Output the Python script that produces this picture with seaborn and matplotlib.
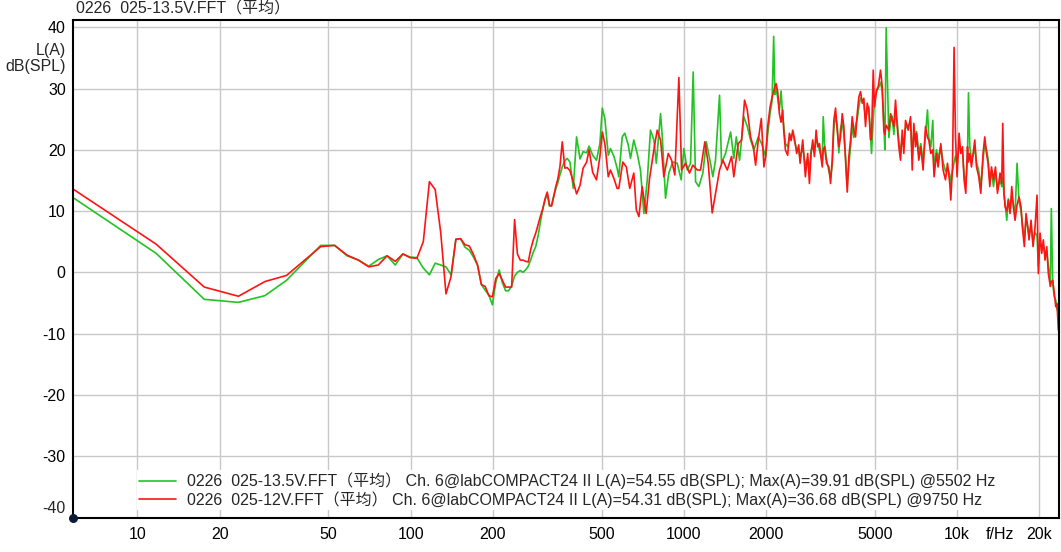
import pandas as pd
import seaborn as sns
import matplotlib.pyplot as plt

# FFT levels (Hz, dB(SPL) A-weighted)
# low part: individual FFT bins, shared by both measurements
freq_low = [5.86, 11.72, 17.58, 23.44, 29.3, 35.16, 46.88, 52.73, 58.59, 64.45,
            70.31, 76.17, 82.03, 87.89, 93.75, 99.61, 105.47, 111.33, 117.19, 123.05,
            128.91, 134.77, 140.63, 146.48, 152.34, 158.2, 164.06, 169.92, 175.78, 181.64,
            187.5, 193.36, 199.22, 205.08, 210.94, 216.8, 222.66, 228.52, 234.38, 240.23,
            246.09, 251.95, 257.81, 263.67, 269.53, 275.39, 281.25, 287.11, 292.97, 298.83,
            304.69, 310.55, 316.41, 322.27, 328.13, 333.98, 339.84, 345.7]
low_135v = [12.1, 3.1, -4.4, -4.9, -3.8, -1.3, 4.4, 4.4, 2.7, 2.0,
            1.0, 2.1, 2.7, 1.2, 3.0, 2.5, 2.4, 0.7, -0.4, 1.5,
            1.2, 0.9, -0.4, 5.4, 5.5, 4.1, 3.6, 2.5, 1.2, -2.0,
            -2.9, -3.7, -5.3, -1.6, 0.4, -1.7, -3.0, -3.0, -2.2, -0.6,
            0.0, 0.3, 0.0, 0.4, 1.0, 2.1, 3.3, 4.2, 6.0, 8.3,
            10.3, 11.8, 12.8, 10.8, 11.0, 12.5, 13.6, 14.6]
low_12v = [13.5, 4.6, -2.4, -3.9, -1.5, -0.5, 4.2, 4.4, 2.8, 2.0,
           0.9, 1.2, 2.7, 1.8, 3.0, 2.4, 2.3, 5.0, 14.8, 13.5,
           6.5, -3.5, -0.7, 5.4, 5.5, 4.5, 4.3, 2.9, 1.2, -2.0,
           -2.3, -3.8, -4.0, -1.0, -0.2, -1.3, -2.4, -2.4, -2.4, 8.6,
           3.0, 2.0, 2.0, 1.8, 1.7, 3.8, 5.3, 6.4, 7.8, 9.2,
           10.4, 12.0, 13.1, 11.0, 10.8, 12.3, 14.0, 15.2]

# 350 - 570 Hz
freq_mid = [352, 359, 367, 374, 383, 394, 405, 417, 428, 441,
            450, 464, 479, 493, 503, 514, 529, 539, 555, 570]
mid_135v = [15.9, 17.2, 18.2, 18.6, 18.0, 13.7, 22.1, 18.5, 19.7, 19.5,
            20.6, 19.1, 18.3, 21.0, 26.8, 25.1, 19.1, 20.2, 18.9, 17.0]
mid_12v = [17.2, 21.3, 17.0, 17.1, 16.6, 14.8, 12.8, 14.2, 17.0, 18.0,
           20.0, 16.3, 15.1, 18.9, 22.9, 21.0, 15.6, 16.7, 15.3, 13.7]

# 570 Hz - 2 kHz, read separately for each trace
freq_b_135v = [578, 595, 608, 626, 638, 656, 675, 694, 714, 735,
               755, 777, 793, 822, 834, 857, 881, 911, 946, 978,
               1000, 1029, 1058, 1082, 1104, 1135, 1174, 1208, 1252, 1277,
               1306, 1351, 1374, 1421, 1483, 1524, 1556, 1599, 1658, 1707,
               1755, 1805, 1873, 1926, 1992]
b_135v = [15.6, 22.1, 22.7, 20.8, 18.6, 21.6, 19.4, 16.7, 9.6, 15.1,
          23.2, 21.6, 17.8, 25.9, 22.1, 12.1, 16.2, 18.0, 17.8, 15.1,
          20.2, 16.7, 17.8, 32.7, 14.8, 14.0, 16.2, 21.3, 17.8, 15.6,
          18.3, 28.9, 17.8, 19.4, 22.9, 18.6, 22.1, 18.3, 25.4, 23.8,
          21.6, 20.0, 22.1, 21.0, 18.9]
freq_b_12v = [578, 598, 616, 634, 656, 670, 685, 704, 728, 749,
              777, 799, 822, 845, 877, 902, 927, 959, 981, 1014,
              1049, 1079, 1120, 1151, 1194, 1228, 1270, 1306, 1351, 1389,
              1442, 1495, 1524, 1582, 1627, 1668, 1707, 1755, 1796, 1831,
              1873, 1921, 1964, 1992]
b_12v = [13.7, 18.0, 17.2, 13.7, 16.2, 10.2, 9.1, 14.0, 9.6, 15.3,
         20.0, 23.2, 21.6, 15.6, 19.4, 18.3, 15.9, 31.8, 16.7, 17.8,
         16.2, 17.5, 16.7, 16.7, 21.3, 17.8, 9.7, 12.9, 16.7, 18.3,
         16.7, 18.9, 15.6, 21.0, 21.6, 28.1, 26.5, 22.1, 20.5, 17.5,
         21.6, 25.1, 17.2, 18.9]

# 2 kHz - 23.5 kHz
freq_high = [2027, 2069, 2104, 2132, 2154, 2176, 2205, 2237, 2269, 2300,
             2320, 2353, 2399, 2434, 2469, 2503, 2539, 2589, 2633, 2664,
             2723, 2785, 2840, 2881, 2923, 2962, 3005, 3049, 3090, 3135,
             3210, 3237, 3273, 3329, 3394, 3443, 3492, 3540, 3591, 3642,
             3692, 3745, 3799, 3851, 3906, 3963, 4017, 4075, 4133, 4189,
             4250, 4311, 4370, 4433, 4497, 4558, 4623, 4690, 4753, 4822,
             4863, 4933, 4987, 5072, 5145, 5246, 5322, 5394, 5440, 5502,
             5627, 5708, 5790, 5868, 5953, 6039, 6121, 6209, 6299, 6384,
             6477, 6626, 6756, 6853, 6946, 7046, 7103, 7242, 7365, 7509,
             7663, 7793, 7879, 8013, 8149, 8238, 8406, 8521, 8717, 8887,
             9069, 9223, 9403, 9483, 9620, 9750, 9866, 10000, 10170, 10317,
             10465, 10608, 10761, 10916, 11008, 11129, 11290, 11443, 11607, 11776,
             12007, 12211, 12449, 12628, 12810, 12985, 13172, 13362, 13590, 13820,
             14055, 14362, 14570, 14692, 14856, 14980, 15196, 15402, 15626, 15852,
             16066, 16298, 16574, 16856, 17142, 17332, 17626, 17880, 18138, 18338,
             18650, 18966, 19288, 19616, 19832, 20118, 20408, 20686, 20984, 21288,
             21576, 21942, 22126, 22392, 22694, 22962, 23214, 23472]
high_135v = [22.5, 26.0, 28.0, 38.5, 29.0, 30.0, 28.5, 26.5, 29.6, 25.5,
             24.0, 21.0, 20.5, 22.0, 22.4, 22.5, 21.5, 20.0, 19.8, 18.5,
             20.5, 17.5, 18.5, 16.5, 20.0, 20.5, 19.5, 22.0, 21.0, 20.0,
             18.0, 25.4, 21.0, 18.5, 16.5, 15.5, 17.5, 23.5, 25.5, 24.0,
             19.5, 23.5, 24.5, 22.5, 19.0, 14.0, 17.5, 20.5, 24.0, 22.0,
             24.0, 25.0, 27.0, 28.5, 28.0, 27.5, 25.0, 26.5, 27.0, 22.5,
             19.4, 25.0, 28.0, 29.5, 30.0, 31.0, 29.5, 24.5, 20.0, 39.9,
             22.0, 24.5, 25.5, 22.5, 26.0, 24.5, 21.5, 19.5, 22.0, 21.0,
             23.5, 24.0, 24.5, 19.0, 23.0, 21.5, 23.0, 19.5, 21.0, 18.0,
             22.5, 26.5, 22.0, 20.5, 24.8, 17.0, 20.0, 18.5, 20.5, 18.0,
             16.5, 17.0, 16.0, 14.5, 16.5, 18.0, 19.0, 17.5, 21.0, 20.0,
             19.5, 16.0, 14.5, 19.0, 29.3, 20.5, 18.5, 19.0, 20.5, 18.0,
             16.5, 14.0, 18.5, 21.0, 20.0, 18.5, 15.0, 16.5, 14.0, 16.5,
             13.5, 15.0, 14.0, 15.5, 12.5, 11.5, 8.5, 12.0, 10.0, 12.5,
             11.0, 9.5, 17.8, 11.5, 10.0, 8.0, 5.5, 8.5, 7.5, 6.0,
             7.5, 5.0, 6.5, 6.0, 1.0, 5.0, 4.0, 4.5, 3.0, 3.5,
             1.0, -1.5, 10.4, -2.0, -4.0, -4.5, -6.0, -6.5]
high_12v = [23.8, 27.0, 28.6, 29.5, 30.3, 30.8, 29.5, 25.9, 24.5, 26.5,
            23.2, 20.0, 19.1, 22.7, 21.5, 23.2, 21.9, 19.4, 20.8, 17.8,
            21.6, 15.6, 19.4, 14.5, 19.4, 21.6, 18.9, 23.2, 20.5, 21.0,
            17.2, 20.0, 20.5, 17.8, 17.2, 14.5, 18.3, 24.8, 26.8, 23.2,
            20.5, 22.1, 25.9, 23.8, 18.3, 13.1, 18.9, 21.6, 25.4, 23.2,
            22.1, 25.9, 28.6, 29.5, 27.6, 28.4, 23.8, 27.6, 26.5, 21.6,
            22.0, 33.0, 27.0, 29.7, 30.3, 33.0, 30.3, 23.2, 22.5, 24.0,
            23.2, 25.9, 24.8, 23.8, 28.1, 23.8, 20.5, 18.3, 23.2, 19.4,
            24.8, 23.2, 25.4, 16.7, 24.3, 20.5, 22.7, 18.3, 20.5, 16.7,
            23.8, 22.0, 21.6, 19.4, 20.0, 15.6, 19.4, 17.2, 21.0, 16.7,
            15.1, 17.8, 14.5, 11.8, 17.2, 36.7, 22.1, 15.6, 22.7, 19.4,
            20.5, 15.1, 12.9, 20.5, 18.0, 19.4, 17.2, 19.4, 21.6, 17.2,
            15.6, 12.9, 19.4, 22.1, 19.4, 17.8, 14.0, 17.2, 15.1, 17.2,
            12.9, 16.2, 14.5, 24.3, 12.9, 10.7, 10.0, 11.8, 9.6, 14.0,
            10.7, 8.5, 11.0, 12.3, 10.7, 7.4, 4.2, 9.6, 7.4, 5.3,
            8.5, 4.2, 7.4, 12.6, -0.2, 6.4, 3.1, 5.3, 2.0, 4.2,
            -0.2, -2.3, -1.5, -1.3, -3.4, -5.6, -5.1, -9.4]

legend_labels = [
    '0226  025-13.5V.FFT（平均） Ch. 6@labCOMPACT24 II L(A)=54.55 dB(SPL); '
    'Max(A)=39.91 dB(SPL) @5502 Hz',
    '0226  025-12V.FFT（平均） Ch. 6@labCOMPACT24 II L(A)=54.31 dB(SPL); '
    'Max(A)=36.68 dB(SPL) @9750 Hz',
]
x_ticks = [10, 20, 50, 100, 200, 500, 1000, 2000, 5000, 10000, 20000]
x_tick_labels = ['10', '20', '50', '100', '200', '500', '1000', '2000', '5000', '10k', '20k']
y_ticks = [-40, -30, -20, -10, 0, 10, 20, 30, 40]

GREEN = '#22c322'
RED = '#ff1414'
FS = 11.5

# one frame per measurement
df_135v = pd.DataFrame({
    'freq': freq_low + freq_mid + freq_b_135v + freq_high,
    'level': low_135v + mid_135v + b_135v + high_135v,
})
df_12v = pd.DataFrame({
    'freq': freq_low + freq_mid + freq_b_12v + freq_high,
    'level': low_12v + mid_12v + b_12v + high_12v,
})

sns.set_style('white')
plt.rcParams['font.family'] = ['Liberation Sans', 'Noto Sans CJK SC', 'DejaVu Sans']

fig = plt.figure(figsize=(10.61, 5.52), dpi=100)
ax = fig.add_axes([0.0685, 0.0625, 0.9296, 0.9004])

sns.lineplot(data=df_135v, x='freq', y='level', color=GREEN, lw=1.2,
             estimator=None, ax=ax, label=legend_labels[0])
sns.lineplot(data=df_12v, x='freq', y='level', color=RED, lw=1.2,
             estimator=None, ax=ax, label=legend_labels[1])

ax.set_xscale('log')
ax.set_xlim(5.8, 23600)
ax.set_ylim(-40, 41.1)
ax.set_xticks(x_ticks, labels=x_tick_labels)
ax.set_xticks([14300], labels=['f/Hz'], minor=True)
ax.set_yticks(y_ticks, labels=[''] + [str(v) for v in y_ticks[1:]])
ax.tick_params(axis='both', which='both', length=0, labelsize=FS, colors='black')
ax.tick_params(axis='x', which='both', pad=7)
ax.tick_params(axis='y', pad=5)
ax.set_xlabel('')
ax.set_ylabel('')
ax.grid(True, which='major', color='#c8c8c8', lw=1)
ax.set_axisbelow(True)
for spine in ax.spines.values():
    spine.set_color('black')
    spine.set_linewidth(1.5)

# the -40 label sits a bit above the axis line in the original
ax.annotate('-40', xy=(0, -40), xycoords=('axes fraction', 'data'),
            xytext=(-7, 9), textcoords='offset pixels', ha='right', va='center',
            fontsize=FS)
ax.scatter([0], [0], transform=ax.transAxes, s=30, color='#0b1b36',
           clip_on=False, zorder=5)

# header and unit texts
fig.text(76 / 1061, 1 - 9 / 552, '0226  025-13.5V.FFT（平均）', fontsize=FS,
         ha='left', va='center')
fig.text(66 / 1061, 1 - 50 / 552, 'L(A)', fontsize=FS, ha='right', va='center')
fig.text(66 / 1061, 1 - 66 / 552, 'dB(SPL)', fontsize=FS, ha='right', va='center')

leg = ax.legend(loc='lower left', bbox_to_anchor=(137 / 1061, 1 - 510 / 552),
                bbox_transform=fig.transFigure, fontsize=FS, handlelength=2.3,
                handletextpad=0.65, labelspacing=0.1, borderpad=0.15,
                borderaxespad=0, frameon=True, fancybox=False, framealpha=1)
leg.get_frame().set_edgecolor('none')
leg.get_frame().set_facecolor('white')

fig.savefig('out.png', dpi=100)
